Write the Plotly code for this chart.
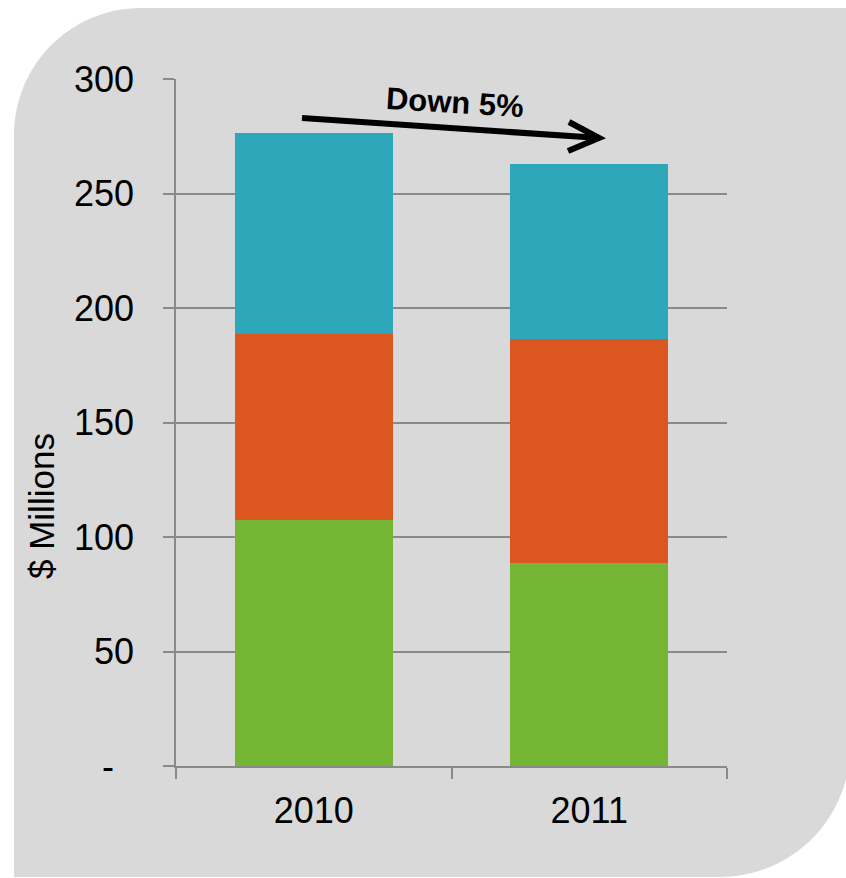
import plotly.graph_objects as go

# ---- data ----
years = ["2010", "2011"]
seg_green = [107.4, 88.5]
seg_orange = [81.1, 98.0]
seg_teal = [87.8, 76.3]
ytick_vals = [0, 50, 100, 150, 200, 250, 300]
ytick_text = ["-\u00a0\u00a0", "50", "100", "150", "200", "250", "300"]
note_text = "Down 5%"
y_title = "$ Millions"

# ---- layout geometry (pixels) ----
W, H = 846, 878
L, R, T, B = 176, 727, 79, 766


def px(x):
    return (x - L) / (R - L)


def py(y):
    return (B - y) / (B - T)


FONT = "Liberation Sans, Arial, sans-serif"
GRID = "#8a8a8a"

fig = go.Figure()
for name, vals, col in [("Series 1", seg_green, "#74B634"),
                        ("Series 2", seg_orange, "#DC5621"),
                        ("Series 3", seg_teal, "#2EA7BA")]:
    fig.add_trace(go.Bar(x=years, y=vals, name=name, marker=dict(color=col, line=dict(width=0))))

# gray rounded background panel
k = 0.5523
r1, r2 = 127, 130
x0, y0, x1, y1 = 14, 8, 850, 877
pts = [
    ("M", [(x0, y0 + r1)]),
    ("C", [(x0, y0 + r1 * (1 - k)), (x0 + r1 * (1 - k), y0), (x0 + r1, y0)]),
    ("L", [(x1, y0)]),
    ("L", [(x1, y1 - r2)]),
    ("C", [(x1, y1 - r2 * (1 - k)), (x1 - r2 * (1 - k), y1), (x1 - r2, y1)]),
    ("L", [(x0, y1)]),
]
path = " ".join(cmd + " " + " ".join(f"{px(a):.5f},{py(b):.5f}" for a, b in p) for cmd, p in pts) + " Z"

shapes = [
    dict(type="path", xref="paper", yref="paper", path=path, fillcolor="#D9D9D9",
         line=dict(width=0), layer="below"),
    dict(type="line", xref="paper", yref="paper", x0=px(302), y0=py(118), x1=px(596), y1=py(137.8),
         line=dict(color="black", width=6)),
    dict(type="path", xref="paper", yref="paper",
         path=f"M {px(569):.5f},{py(122):.5f} L {px(599):.5f},{py(138):.5f} L {px(568):.5f},{py(151):.5f}",
         line=dict(color="black", width=6)),
]

annotations = [
    dict(text=f"<b>{note_text}</b>", xref="paper", yref="paper", x=px(455), y=py(103),
         showarrow=False, textangle=3.5, font=dict(family=FONT, size=31, color="black"),
         xanchor="center", yanchor="middle"),
    dict(text=y_title, xref="paper", yref="paper", x=px(42), y=py(506),
         showarrow=False, textangle=-90, font=dict(family=FONT, size=35, color="black"),
         xanchor="center", yanchor="middle"),
]

fig.update_layout(
    width=W, height=H,
    margin=dict(l=L, r=W - R, t=T, b=H - B, pad=0),
    barmode="stack", bargap=0.428,
    showlegend=False,
    paper_bgcolor="white", plot_bgcolor="rgba(0,0,0,0)",
    font=dict(family=FONT, size=36, color="black"),
    shapes=shapes, annotations=annotations,
)
fig.update_xaxes(
    type="category", range=[-0.5, 1.5], showline=True, linecolor=GRID, linewidth=1.5,
    ticks="outside", tickson="boundaries", ticklen=11, tickcolor=GRID, tickwidth=1.5,
    showgrid=False, tickfont=dict(size=36), ticklabelstandoff=12,
)
fig.update_yaxes(
    range=[0, 300], tickvals=ytick_vals, ticktext=ytick_text,
    showline=True, linecolor=GRID, linewidth=1.5,
    ticks="outside", ticklen=11, tickcolor=GRID, tickwidth=1.5,
    showgrid=True, gridcolor=GRID, gridwidth=1.5, zeroline=False,
    tickfont=dict(size=36), ticklabelstandoff=22,
)

fig.write_html("out.html")
